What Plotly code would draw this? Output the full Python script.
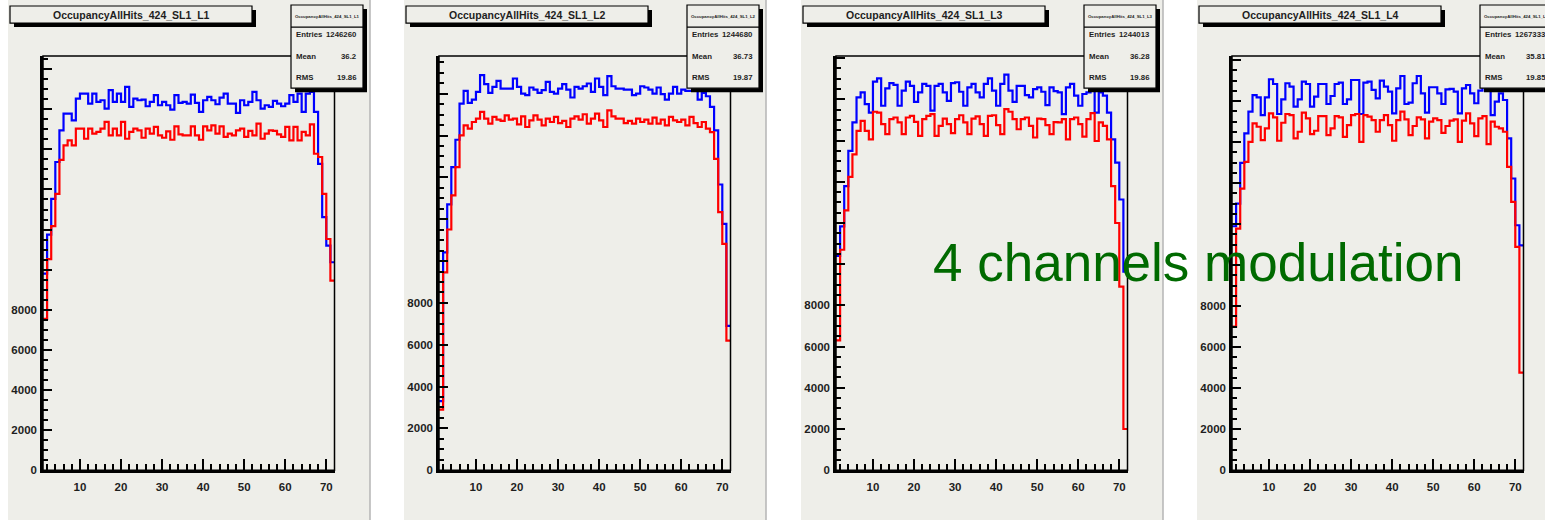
import plotly.graph_objects as go

W, H = 1545, 521          # reference picture size (layout coordinates are read in these pixels)
FIG_H = 528               # rendered height (viewport is squashed to 521 when photographed)

# ---------------- data ----------------
bin_edges = list(range(1, 73))          # 71 bins of width 1, from 1 to 72
titles = ["OccupancyAllHits_424_SL1_L1", "OccupancyAllHits_424_SL1_L2",
          "OccupancyAllHits_424_SL1_L3", "OccupancyAllHits_424_SL1_L4"]
entries = ["1246260", "1244680", "1244013", "1267333"]
means = ["36.2", "36.73", "36.28", "35.81"]
rmss = ["19.86", "19.87", "19.86", "19.85"]
ymax = [20650, 19800, 20100, 20200]
x_tick_vals = [10, 20, 30, 40, 50, 60, 70]
y_tick_vals = [0, 2000, 4000, 6000, 8000, 10000, 12000, 14000, 16000, 18000, 20000]
y_tick_text = ["0", "2000", "4000", "6000", "8000", "", "", "", "", "", ""]

blue_L1 = [9800, 11750, 13530, 15370, 16950, 17780, 17780, 17450, 18530, 18780,
           18780, 18280, 18780, 18370, 18450, 18030, 18950, 18370, 18780, 18370,
           19120, 18120, 18530, 18450, 18480, 18150, 18370, 18700, 18200, 18370,
           18200, 17980, 18700, 18320, 18370, 18280, 18730, 18320, 17870, 18450,
           18620, 18450, 18250, 18580, 18780, 18280, 18280, 17820, 18450, 18200,
           18370, 18870, 18450, 18030, 18200, 18120, 18420, 18280, 18150, 18280,
           18700, 18370, 18780, 17870, 18780, 18870, 17870, 15280, 12620, 11200,
           10370]
red_L1 = [7550, 10530, 12170, 13780, 15480, 16200, 16450, 16200, 17030, 17030,
          16530, 17030, 16780, 16870, 17030, 17370, 16700, 17030, 16700, 17370,
          16530, 16870, 17030, 16950, 16580, 17030, 16780, 17120, 16700, 16580,
          16900, 16480, 17150, 16750, 16700, 16700, 17150, 16700, 16480, 17150,
          16950, 17200, 16780, 17150, 16620, 16780, 16700, 16950, 17030, 16620,
          16920, 16700, 17280, 16530, 16780, 16950, 16920, 16750, 16620, 17120,
          16450, 17120, 16450, 16870, 16700, 17250, 15780, 15620, 13780, 11530,
          9450]
blue_L2 = [3300, 10420, 12710, 14490, 15800, 17530, 18140, 17560, 17720, 18090,
           18890, 18460, 18040, 18330, 18620, 18250, 18250, 18250, 18730, 18330,
           18010, 17930, 18300, 18200, 18040, 18170, 18570, 18090, 18010, 18250,
           18460, 18200, 17820, 18330, 18250, 18360, 18490, 18090, 18730, 18330,
           17930, 18840, 18360, 18250, 18250, 18200, 18200, 17930, 18010, 18360,
           18300, 18200, 18010, 18300, 17980, 17720, 18010, 18330, 18010, 18200,
           18140, 18140, 18140, 17720, 18040, 17880, 17370, 16250, 13660, 11780,
           6900]
red_L2 = [2900, 9460, 11510, 13140, 14490, 16010, 16490, 16330, 16650, 16810,
          17130, 16810, 16570, 16890, 16760, 16700, 16970, 16760, 16810, 16540,
          16920, 16410, 16730, 16970, 16760, 16490, 16810, 16650, 16890, 16600,
          16700, 16410, 16810, 16920, 16760, 17020, 16570, 16810, 17050, 16730,
          16410, 17210, 16920, 16810, 16810, 16600, 16700, 16570, 16810, 16650,
          16760, 16570, 16860, 16570, 16760, 16490, 16890, 16730, 16650, 16760,
          16490, 16890, 16600, 16410, 16650, 16330, 16170, 14890, 12340, 10820,
          6200]
blue_L3 = [10400,
           11840, 13790, 15500, 16880, 18100, 18340, 17770, 17360, 18860, 19020,
           17690, 18530, 18790, 18700, 17690, 18420, 18860, 18660, 17880, 18340,
           18750, 18660, 17450, 18660, 18750, 18340, 17930, 18790, 18830, 18370,
           17690, 18580, 18750, 18340, 18100, 18750, 19020, 18420, 17690, 18750,
           19200, 18420, 17880, 18660, 18660, 18210, 18100, 18500, 18580, 18370,
           17720, 18580, 18400,
           18340, 17280, 18580, 18750, 18180, 17690, 18260, 18340, 18750, 17360,
           18340, 18180, 17360, 16060, 14930, 13140, 9640]
red_L3 = [6300,
          10700, 12616, 14240, 15330, 16470, 16960, 16470, 16060, 17400, 17360,
          16800, 16310, 17040, 17120, 16880, 16310, 17120, 17200, 16910, 16230,
          17040, 17200, 17280, 16230, 16710, 17070, 16800, 16360, 17040, 17230,
          16880, 16310, 17070, 17170, 16800, 16230, 17200, 17230, 16750, 16310,
          17530, 17400, 17040, 16550, 17040, 17120, 16710, 16150, 17070, 17040,
          16750, 16310, 16900,
          16880, 17040, 16060, 17040, 17120, 16800, 16190, 17040, 17330, 15980,
          16880, 16710, 16060, 13790, 12000, 8910,
          2000]
blue_L4 = [11900,
           13006, 14995, 16430, 17490, 18300, 18190, 17325, 18190, 19070, 18840,
           17375, 18090, 18875, 18710, 17735, 18090, 18955, 18840, 17735, 18220,
           18840, 18840, 17865, 18255, 18840, 18905, 17865, 18090, 19035, 19035,
           17375, 18905, 18955, 18550, 18140, 19005, 18710, 18465, 17410, 18630,
           19230, 17865, 17930, 18875, 19230, 18385, 17440, 18680, 18680, 18385,
           17865, 18580, 18600,
           18465, 17410, 18630, 18790, 18385, 17900, 18515, 19035, 18630, 17325,
           17980, 18385, 18060, 16185, 14230, 11950, 10970]
red_L4 = [7000,
          11780, 13740, 15045, 16020, 16920, 16755, 16105, 16675, 17405, 17210,
          16070, 16950, 17375, 17325, 16185, 16510, 17440, 17160, 16395, 16560,
          17275, 17275, 16350, 16675, 17275, 17210, 16265, 16835, 17325, 17375,
          16020, 17325, 17245, 17080, 16510, 17080, 17325, 16835, 16070, 17080,
          17490, 17115, 16350, 16790, 17210, 17115, 16185, 17000, 17160, 17080,
          16460, 16790, 17050, 17115, 16020, 17050, 17405, 16920, 16300, 17160,
          17275, 15910, 17000,
          16755, 16675, 16510, 14800, 13090, 10890,
          4760]

blue_series = [blue_L1, blue_L2, blue_L3, blue_L4]
red_series = [red_L1, red_L2, red_L3, red_L4]

# ---------------- styling / layout helpers ----------------
PAD = "#eeeee9"
FONT = "Liberation Sans, Arial, Helvetica, sans-serif"
TXT = "#1e1e1e"
offsets = [0, 396, 793, 1189]


def px(x):
    return x / W


def py(y):
    return 1 - y / H


fig = go.Figure()
shapes = []
annotations = []
layout_axes = {}

for i in range(4):
    off = offsets[i]
    n = "" if i == 0 else str(i + 1)
    xa, ya = "x" + n, "y" + n

    for counts, col in ((blue_series[i], "#0000ff"), (red_series[i], "#ff0000")):
        fig.add_trace(go.Scatter(
            x=bin_edges, y=counts + [counts[-1]], xaxis=xa, yaxis=ya,
            mode="lines", line=dict(color=col, width=2.2, shape="hv"),
            hoverinfo="skip", showlegend=False))

    layout_axes["xaxis" + n] = dict(
        domain=[px(43 + off), px(334.5 + off)], anchor=ya, range=[1, 72],
        showgrid=False, zeroline=False, showline=True, linecolor="black", linewidth=2.5,
        ticks="inside", ticklen=11, tickwidth=2, tickcolor="black",
        tickmode="array", tickvals=x_tick_vals, ticktext=[str(v) for v in x_tick_vals],
        tickfont=dict(family=FONT, size=11.5, color=TXT, weight="bold"),
        ticklabelstandoff=4,
        minor=dict(ticks="inside", ticklen=6, tickwidth=2, tickcolor="black",
                   dtick=2, tick0=0, showgrid=False),
        fixedrange=True)
    layout_axes["yaxis" + n] = dict(
        domain=[py(469.3), py(56)], anchor=xa, range=[0, ymax[i]],
        showgrid=False, zeroline=False, showline=True, linecolor="black", linewidth=2.5,
        ticks="inside", ticklen=9, tickwidth=2, tickcolor="black",
        tickmode="array", tickvals=y_tick_vals, ticktext=y_tick_text,
        tickfont=dict(family=FONT, size=11.5, color=TXT, weight="bold"),
        ticklabelstandoff=1,
        minor=dict(ticks="inside", ticklen=5, tickwidth=2, tickcolor="black",
                   dtick=500, tick0=0, showgrid=False),
        fixedrange=True)

    # pad background
    shapes.append(dict(type="rect", xref="paper", yref="paper",
                       x0=px(8 + off), x1=px(370 + off), y0=py(519), y1=py(0),
                       fillcolor=PAD, line=dict(width=0), layer="below"))
    shapes.append(dict(type="line", xref="paper", yref="paper",
                       x0=px(370 + off), x1=px(370 + off), y0=py(519), y1=py(0),
                       line=dict(color="#b4b4b4", width=1.5), layer="below"))
    # frame (top/right)
    shapes.append(dict(type="rect", xref=xa + " domain", yref=ya + " domain",
                       x0=0, x1=1, y0=0, y1=1, line=dict(color="black", width=1.5),
                       layer="above"))
    # title box with shadow
    shapes.append(dict(type="rect", xref="paper", yref="paper",
                       x0=px(14 + off), x1=px(256 + off), y0=py(27), y1=py(10),
                       fillcolor="black", line=dict(width=0), layer="above"))
    shapes.append(dict(type="rect", xref="paper", yref="paper",
                       x0=px(10 + off), x1=px(252 + off), y0=py(23), y1=py(6),
                       fillcolor=PAD, line=dict(color="black", width=1.2), layer="above"))
    # stats box with shadow
    shapes.append(dict(type="rect", xref="paper", yref="paper",
                       x0=px(295 + off), x1=px(367 + off), y0=py(92), y1=py(9),
                       fillcolor="black", line=dict(width=0), layer="above"))
    shapes.append(dict(type="rect", xref="paper", yref="paper",
                       x0=px(291 + off), x1=px(363 + off), y0=py(88), y1=py(5),
                       fillcolor=PAD, line=dict(color="black", width=1.2), layer="above"))
    shapes.append(dict(type="line", xref="paper", yref="paper",
                       x0=px(291 + off), x1=px(363 + off), y0=py(27), y1=py(27),
                       line=dict(color="black", width=1.2), layer="above"))

    annotations.append(dict(xref="paper", yref="paper", x=px(131 + off), y=py(14.7),
                            text=titles[i], showarrow=False, xanchor="center",
                            yanchor="middle",
                            font=dict(family=FONT, size=10.5, color=TXT, weight="bold")))
    annotations.append(dict(xref="paper", yref="paper", x=px(327 + off), y=py(16),
                            text=titles[i], showarrow=False, xanchor="center",
                            yanchor="middle",
                            font=dict(family=FONT, size=4.3, color=TXT, weight="bold")))
    for label, val, yy in (("Entries", entries[i], 34.6), ("Mean", means[i], 56.6),
                           ("RMS", rmss[i], 77.3)):
        annotations.append(dict(xref="paper", yref="paper", x=px(294 + off), y=py(yy),
                                text=label, showarrow=False, xanchor="left",
                                yanchor="middle",
                                font=dict(family=FONT, size=7.8, color=TXT, weight="bold")))
        annotations.append(dict(xref="paper", yref="paper", x=px(359 + off), y=py(yy),
                                text=val, showarrow=False, xanchor="right",
                                yanchor="middle",
                                font=dict(family=FONT, size=7.8, color=TXT, weight="bold")))

annotations.append(dict(xref="paper", yref="paper", x=px(931), y=py(261.6),
                        text="4 channels modulation", showarrow=False,
                        xanchor="left", yanchor="middle",
                        font=dict(family=FONT, size=53, color="#006a00")))

fig.update_layout(
    width=W, height=FIG_H, margin=dict(l=0, r=0, t=0, b=0, pad=0),
    paper_bgcolor="white", plot_bgcolor="rgba(0,0,0,0)",
    shapes=shapes, annotations=annotations, showlegend=False,
    **layout_axes)

fig.write_html("out.html", config={"displayModeBar": False},
               post_script="document.body.style.margin='0';"
                           "document.body.style.overflow='hidden';")
